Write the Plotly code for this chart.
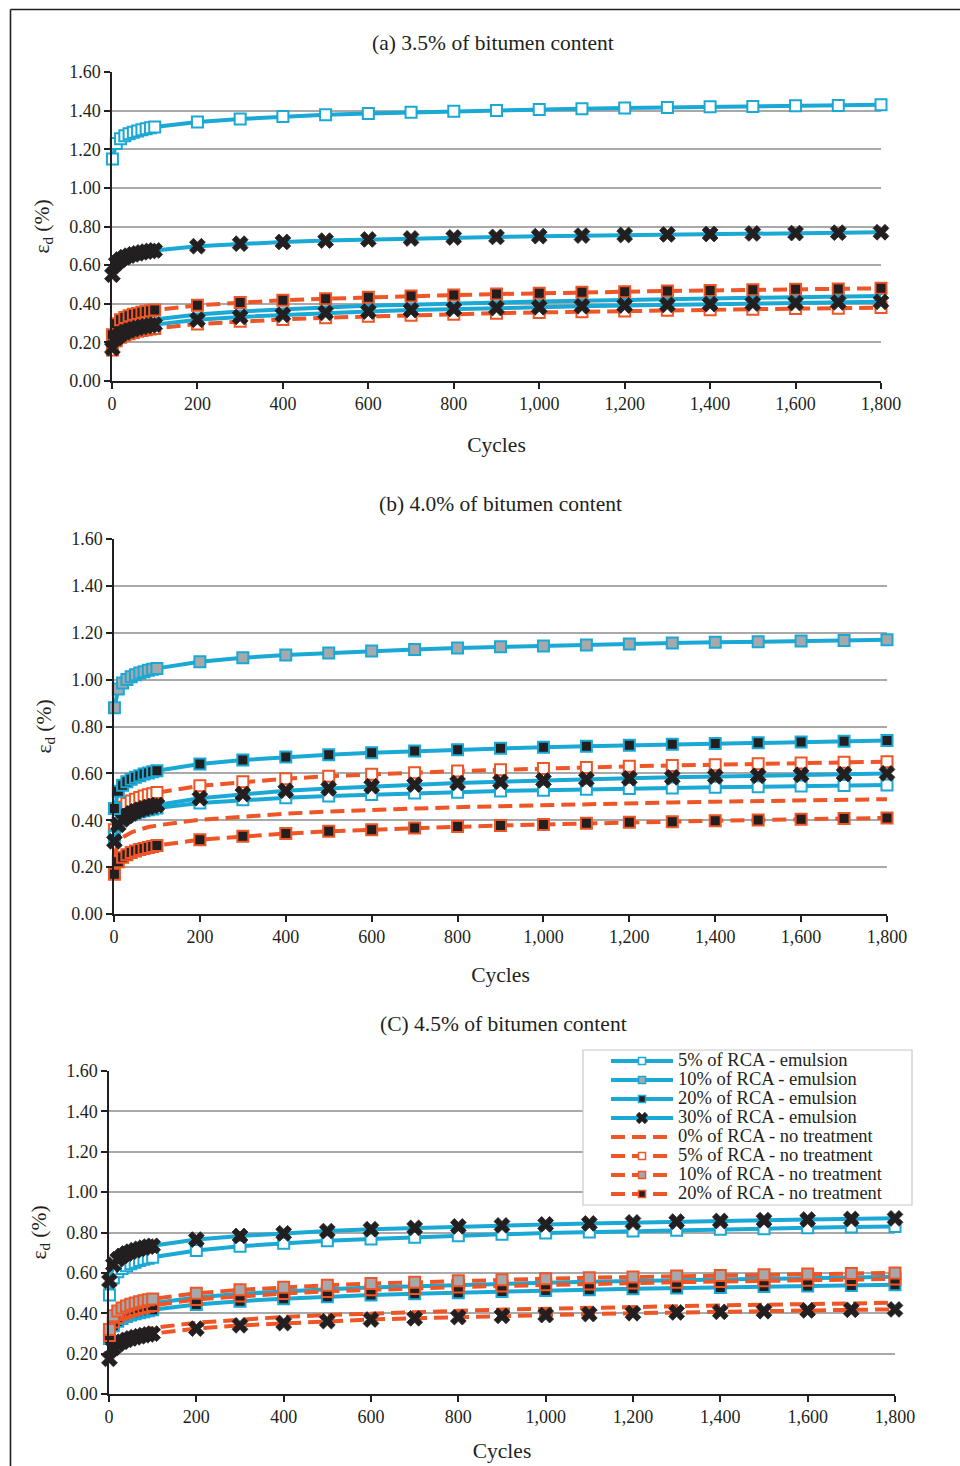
import plotly.graph_objects as go

# Loading cycles at which permanent strain was recorded
cycles = [1, 10, 20, 30, 40, 50, 60, 70, 80, 90, 100,
          200, 300, 400, 500, 600, 700, 800, 900, 1000,
          1100, 1200, 1300, 1400, 1500, 1600, 1700, 1800]

# ---- (a) 3.5 % bitumen content -------------------------------------------
a_em5 = [1.150, 1.230, 1.255, 1.270, 1.280, 1.288, 1.295, 1.301, 1.306, 1.311, 1.315,
         1.341, 1.357, 1.369, 1.378, 1.385, 1.391, 1.397, 1.401, 1.406,
         1.410, 1.413, 1.416, 1.420, 1.422, 1.425, 1.427, 1.430]
a_em30 = [0.550, 0.610, 0.629, 0.641, 0.649, 0.656, 0.661, 0.666, 0.670, 0.673, 0.676,
          0.698, 0.711, 0.720, 0.727, 0.733, 0.738, 0.743, 0.746, 0.750,
          0.753, 0.756, 0.759, 0.761, 0.764, 0.766, 0.768, 0.770]
a_nt20 = [0.240, 0.297, 0.317, 0.329, 0.338, 0.345, 0.350, 0.356, 0.360, 0.364, 0.367,
          0.392, 0.407, 0.418, 0.426, 0.434, 0.440, 0.445, 0.450, 0.455,
          0.459, 0.462, 0.466, 0.469, 0.472, 0.475, 0.477, 0.480]
a_em_line = [0.190, 0.246, 0.266, 0.278, 0.287, 0.295, 0.301, 0.306, 0.310, 0.315, 0.318,
             0.344, 0.360, 0.372, 0.381, 0.389, 0.396, 0.402, 0.407, 0.412,
             0.416, 0.421, 0.424, 0.428, 0.431, 0.434, 0.437, 0.440]
a_em30_low = [0.170, 0.223, 0.242, 0.253, 0.262, 0.269, 0.275, 0.280, 0.284, 0.288, 0.292,
              0.317, 0.332, 0.343, 0.353, 0.360, 0.367, 0.373, 0.378, 0.382,
              0.387, 0.391, 0.394, 0.398, 0.401, 0.404, 0.407, 0.410]
a_nt5 = [0.160, 0.209, 0.226, 0.237, 0.245, 0.251, 0.257, 0.261, 0.265, 0.269, 0.272,
         0.295, 0.309, 0.319, 0.328, 0.335, 0.341, 0.346, 0.351, 0.355,
         0.359, 0.363, 0.366, 0.369, 0.372, 0.375, 0.377, 0.380]

# ---- (b) 4.0 % bitumen content -------------------------------------------
b_em10 = [0.880, 0.960, 0.986, 1.001, 1.012, 1.021, 1.028, 1.034, 1.040, 1.044, 1.048,
          1.076, 1.093, 1.105, 1.114, 1.122, 1.129, 1.135, 1.140, 1.144,
          1.148, 1.152, 1.156, 1.159, 1.162, 1.165, 1.167, 1.170]
b_em20 = [0.450, 0.524, 0.549, 0.564, 0.575, 0.583, 0.590, 0.597, 0.602, 0.607, 0.611,
          0.640, 0.657, 0.670, 0.680, 0.688, 0.695, 0.701, 0.707, 0.712,
          0.716, 0.720, 0.724, 0.728, 0.731, 0.734, 0.737, 0.740]
b_nt5 = [0.360, 0.432, 0.456, 0.471, 0.482, 0.490, 0.497, 0.503, 0.509, 0.513, 0.518,
         0.547, 0.564, 0.577, 0.588, 0.596, 0.603, 0.610, 0.615, 0.621,
         0.625, 0.630, 0.634, 0.637, 0.641, 0.644, 0.647, 0.650]
b_em30 = [0.310, 0.380, 0.404, 0.418, 0.429, 0.438, 0.445, 0.451, 0.456, 0.461, 0.465,
          0.494, 0.512, 0.526, 0.536, 0.545, 0.552, 0.559, 0.564, 0.570,
          0.575, 0.579, 0.583, 0.587, 0.590, 0.594, 0.597, 0.600]
b_em5 = [0.330, 0.386, 0.405, 0.416, 0.424, 0.431, 0.436, 0.441, 0.445, 0.448, 0.452,
         0.474, 0.487, 0.496, 0.504, 0.510, 0.516, 0.520, 0.525, 0.528,
         0.532, 0.535, 0.538, 0.541, 0.543, 0.546, 0.548, 0.550]
b_nt0 = [0.250, 0.307, 0.327, 0.339, 0.348, 0.355, 0.361, 0.366, 0.371, 0.374, 0.378,
         0.402, 0.417, 0.428, 0.437, 0.444, 0.450, 0.456, 0.460, 0.465,
         0.469, 0.472, 0.476, 0.479, 0.482, 0.485, 0.487, 0.490]
b_nt20 = [0.170, 0.223, 0.242, 0.253, 0.262, 0.269, 0.275, 0.280, 0.284, 0.288, 0.292,
          0.317, 0.332, 0.343, 0.353, 0.360, 0.367, 0.373, 0.378, 0.382,
          0.387, 0.391, 0.394, 0.398, 0.401, 0.404, 0.407, 0.410]

# ---- (c) 4.5 % bitumen content -------------------------------------------
c_em30 = [0.560, 0.641, 0.668, 0.684, 0.696, 0.705, 0.712, 0.719, 0.725, 0.730, 0.734,
          0.765, 0.783, 0.796, 0.807, 0.816, 0.823, 0.830, 0.835, 0.840,
          0.845, 0.850, 0.854, 0.857, 0.861, 0.864, 0.867, 0.870]
c_em5 = [0.490, 0.576, 0.605, 0.622, 0.635, 0.645, 0.653, 0.661, 0.667, 0.672, 0.677,
         0.711, 0.732, 0.747, 0.759, 0.768, 0.777, 0.784, 0.791, 0.797,
         0.802, 0.807, 0.811, 0.816, 0.819, 0.823, 0.827, 0.830]
c_nt10 = [0.320, 0.388, 0.411, 0.426, 0.436, 0.444, 0.451, 0.457, 0.462, 0.467, 0.471,
          0.499, 0.516, 0.529, 0.539, 0.547, 0.554, 0.561, 0.566, 0.571,
          0.576, 0.580, 0.584, 0.587, 0.591, 0.594, 0.597, 0.600]
c_nt20 = [0.290, 0.357, 0.380, 0.394, 0.404, 0.413, 0.419, 0.425, 0.430, 0.435, 0.439,
          0.468, 0.485, 0.498, 0.508, 0.516, 0.523, 0.530, 0.535, 0.541,
          0.545, 0.550, 0.554, 0.557, 0.561, 0.564, 0.567, 0.570]
c_em10 = [0.300, 0.367, 0.391, 0.405, 0.415, 0.423, 0.430, 0.436, 0.441, 0.446, 0.450,
          0.478, 0.496, 0.509, 0.519, 0.527, 0.534, 0.541, 0.546, 0.551,
          0.556, 0.560, 0.564, 0.568, 0.571, 0.575, 0.578, 0.581]
c_em20 = [0.275, 0.338, 0.360, 0.374, 0.384, 0.391, 0.398, 0.403, 0.408, 0.412, 0.417,
          0.443, 0.460, 0.472, 0.482, 0.490, 0.496, 0.502, 0.508, 0.513,
          0.517, 0.521, 0.525, 0.528, 0.532, 0.535, 0.538, 0.541]
c_nt0 = [0.195, 0.252, 0.273, 0.285, 0.295, 0.302, 0.308, 0.314, 0.319, 0.323, 0.327,
         0.353, 0.369, 0.382, 0.391, 0.399, 0.406, 0.412, 0.418, 0.423,
         0.427, 0.432, 0.435, 0.439, 0.442, 0.446, 0.449, 0.452]
c_ntx = [0.174, 0.228, 0.247, 0.259, 0.268, 0.275, 0.281, 0.286, 0.291, 0.295, 0.299,
         0.324, 0.340, 0.351, 0.361, 0.369, 0.375, 0.381, 0.387, 0.391,
         0.396, 0.400, 0.404, 0.407, 0.410, 0.414, 0.417, 0.419]

# Axis ticks
x_ticks = [0, 200, 400, 600, 800, 1000, 1200, 1400, 1600, 1800]
y_ticks = [0.0, 0.2, 0.4, 0.6, 0.8, 1.0, 1.2, 1.4, 1.6]

panel_titles = ["(a) 3.5% of bitumen content",
                "(b) 4.0% of bitumen content",
                "(C) 4.5% of bitumen content"]

legend_names = ["5% of RCA - emulsion", "10% of RCA - emulsion",
                "20% of RCA - emulsion", "30% of RCA - emulsion",
                "0% of RCA - no treatment", "5% of RCA - no treatment",
                "10% of RCA - no treatment", "20% of RCA - no treatment"]
legend_kinds = ["em5", "em10", "em20", "em30", "nt0", "nt5", "nt10", "nt20"]

BLUE = "#1AA8D4"
ORANGE = "#EE5527"
GREY = "#A7A8AB"
BLACK = "#231F20"
FONT = "Liberation Serif"

# line + marker style for every kind of curve
STYLES = {
    "em5":  dict(color=BLUE, dash="solid", symbol="square", fill="white"),
    "em10": dict(color=BLUE, dash="solid", symbol="square", fill=GREY),
    "em20": dict(color=BLUE, dash="solid", symbol="square", fill=BLACK),
    "em30": dict(color=BLUE, dash="solid", symbol="x", fill=BLACK),
    "emln": dict(color=BLUE, dash="solid", symbol=None, fill=None),
    "nt0":  dict(color=ORANGE, dash="14px,7px", symbol=None, fill=None),
    "nt5":  dict(color=ORANGE, dash="14px,7px", symbol="square", fill="white"),
    "nt10": dict(color=ORANGE, dash="14px,7px", symbol="square", fill=GREY),
    "nt20": dict(color=ORANGE, dash="14px,7px", symbol="square", fill=BLACK),
    "ntx":  dict(color=ORANGE, dash="14px,7px", symbol="x", fill=BLACK),
}


def marker_for(st, size, edge):
    if st["symbol"] is None:
        return None
    if st["symbol"] == "x":
        return dict(symbol="x", size=size + 3, color=BLACK,
                    line=dict(width=0.8, color=BLACK))
    return dict(symbol="square", size=size, color=st["fill"],
                line=dict(width=edge, color=st["color"]))


def curve(y, kind, axis):
    st = STYLES[kind]
    mk = marker_for(st, 11, 2)
    return go.Scatter(
        x=cycles, y=y, xaxis="x" + axis, yaxis="y" + axis,
        mode="lines+markers" if mk else "lines",
        line=dict(color=st["color"], width=4, dash=st["dash"]),
        marker=mk, showlegend=False, cliponaxis=False, hoverinfo="skip")


panels = [
    ("", [(a_nt5, "nt5"), (a_nt20, "nt20"), (a_em_line, "emln"),
          (a_em30_low, "em30"), (a_em30, "em30"), (a_em5, "em5")]),
    ("2", [(b_nt0, "nt0"), (b_nt20, "nt20"), (b_nt5, "nt5"), (b_em5, "em5"),
           (b_em30, "em30"), (b_em20, "em20"), (b_em10, "em10")]),
    ("3", [(c_em10, "emln"), (c_em20, "em20"), (c_em5, "em5"), (c_em30, "em30"),
           (c_nt0, "nt0"), (c_ntx, "ntx"), (c_nt20, "nt20"), (c_nt10, "nt10")]),
]

fig = go.Figure()
for axis, series in panels:
    for y, kind in series:
        fig.add_trace(curve(y, kind, axis))

# legend entries
for name, kind in zip(legend_names, legend_kinds):
    st = STYLES[kind]
    mk = marker_for(st, 7, 1.5)
    fig.add_trace(go.Scatter(
        x=[None], y=[None], xaxis="x3", yaxis="y3",
        mode="lines+markers" if mk else "lines",
        name='<span style="font-size:18.5px">' + name + "</span>",
        line=dict(color=st["color"], width=4, dash=st["dash"]),
        marker=mk, showlegend=True))

W, H = 960, 1466


def px_x(v):
    return v / W


def px_y(v):
    return 1 - v / H


# plot-area boxes in page pixels: (left, right, top, bottom)
boxes = [(112, 881, 72, 381), (114, 887, 539, 914), (109, 895, 1071, 1394)]
title_pos = [(493, 43), (500, 504), (503, 1024)]
cycles_standoff = [24, 21, 17]

axis_font = dict(family=FONT, size=18, color=BLACK)
layout = dict(
    width=W, height=H, margin=dict(l=0, r=0, t=0, b=0),
    paper_bgcolor="white", plot_bgcolor="white",
    font=dict(family=FONT, color=BLACK),
    showlegend=True,
    legend=dict(x=px_x(606), y=px_y(1046.5), xanchor="left", yanchor="top",
                font=dict(family=FONT, size=12.3, color=BLACK),
                itemwidth=62, bgcolor="rgba(0,0,0,0)", borderwidth=0,
                tracegroupgap=0),
)

annotations = []
for i, ((l, r, t, b), (tx, ty)) in enumerate(zip(boxes, title_pos)):
    sfx = "" if i == 0 else str(i + 1)
    layout["xaxis" + sfx] = dict(
        domain=[px_x(l), px_x(r)], anchor="y" + sfx, range=[0, 1800],
        tickvals=x_ticks, tickformat=",d", showgrid=False, zeroline=False,
        showline=True, linecolor=BLACK, linewidth=1.5,
        ticks="outside", ticklen=6, tickwidth=1.5, tickcolor=BLACK,
        tickfont=axis_font, automargin=False,
        title=dict(text="Cycles", font=dict(family=FONT, size=21.5, color=BLACK),
                   standoff=cycles_standoff[i]))
    layout["yaxis" + sfx] = dict(
        domain=[px_y(b), px_y(t)], anchor="x" + sfx, range=[0, 1.6],
        tickvals=y_ticks, tickformat=".2f", showgrid=True,
        gridcolor="#A9A9A9", gridwidth=1.5, zeroline=False,
        showline=True, linecolor=BLACK, linewidth=1.5,
        ticks="outside", ticklen=6, tickwidth=1.5, tickcolor=BLACK,
        tickfont=axis_font, automargin=False,
        title=dict(text="ε<sub>d</sub> (%)",
                   font=dict(family=FONT, size=21.5, color=BLACK), standoff=14))
    annotations.append(dict(
        text=panel_titles[i], x=px_x(tx), y=px_y(ty), xref="paper", yref="paper",
        xanchor="center", yanchor="middle", showarrow=False,
        font=dict(family=FONT, size=21.5, color=BLACK)))

layout["annotations"] = annotations
layout["shapes"] = [
    # legend frame
    dict(type="rect", xref="paper", yref="paper", layer="above",
         x0=px_x(583), x1=px_x(912), y0=px_y(1205), y1=px_y(1050),
         fillcolor="white", line=dict(color="#C8C8C8", width=1.2)),
    # page frame
    dict(type="line", xref="paper", yref="paper",
         x0=px_x(10.5), x1=px_x(10.5), y0=px_y(9.5), y1=-0.01,
         line=dict(color=BLACK, width=1.6)),
    dict(type="line", xref="paper", yref="paper",
         x0=px_x(10.5), x1=1.01, y0=px_y(9.5), y1=px_y(9.5),
         line=dict(color=BLACK, width=1.6)),
]

fig.update_layout(**layout)
fig.write_html("out.html")
